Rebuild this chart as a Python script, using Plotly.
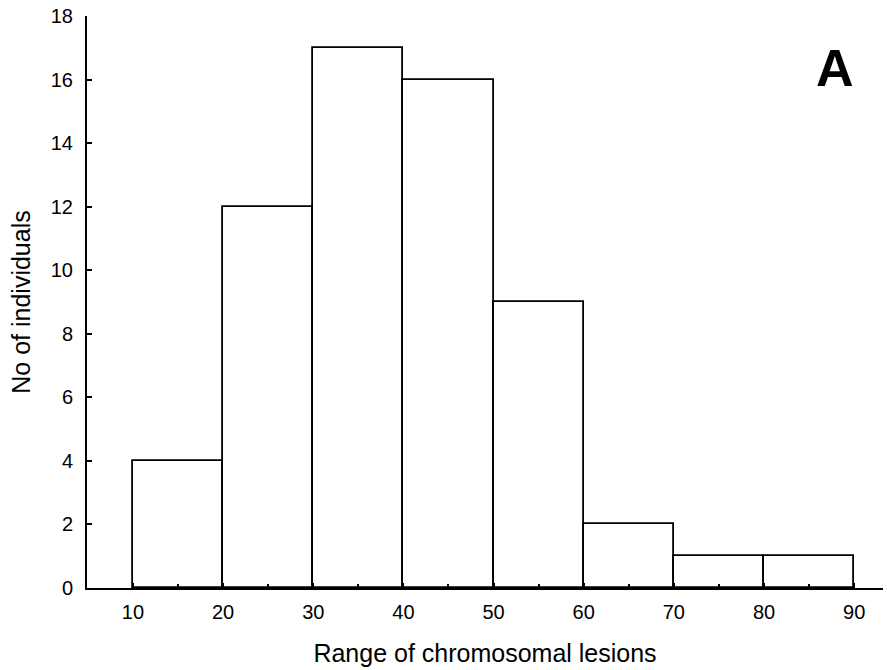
import plotly.graph_objects as go

bin_starts = [10, 20, 30, 40, 50, 60, 70, 80]
bin_width = 10
counts = [4, 12, 17, 16, 9, 2, 1, 1]
x_ticks = [10, 20, 30, 40, 50, 60, 70, 80, 90]
y_ticks = [0, 2, 4, 6, 8, 10, 12, 14, 16, 18]

centers = [s + bin_width / 2 for s in bin_starts]

fig = go.Figure(
    go.Bar(
        x=centers,
        y=counts,
        width=[bin_width] * len(counts),
        marker=dict(color="white", line=dict(color="black", width=1.8)),
        hoverinfo="skip",
    )
)

font = "Liberation Sans, Arial, sans-serif"
fig.update_layout(
    width=887,
    height=670,
    margin=dict(l=87, r=4, t=16, b=82),
    plot_bgcolor="white",
    paper_bgcolor="white",
    showlegend=False,
    bargap=0,
    font=dict(family=font, size=20, color="black"),
    annotations=[
        dict(
            text="<b>A</b>",
            x=0.94,
            y=0.909,
            xref="paper",
            yref="paper",
            xanchor="center",
            yanchor="middle",
            showarrow=False,
            font=dict(family=font, size=52, color="black"),
        )
    ],
)
fig.update_xaxes(
    range=[4.9, 93.2],
    tickvals=x_ticks,
    ticks="inside",
    ticklen=5,
    tickwidth=1.5,
    tickcolor="black",
    minor=dict(dtick=5, tick0=5, ticks="inside", ticklen=4, tickwidth=1.5, tickcolor="black"),
    showline=True,
    linecolor="black",
    linewidth=2,
    showgrid=False,
    zeroline=False,
    automargin=False,
    tickfont=dict(size=20),
    ticklabelstandoff=5,
    title=dict(text="Range of chromosomal lesions", font=dict(size=25), standoff=22),
)
fig.update_yaxes(
    range=[0, 18],
    tickvals=y_ticks,
    ticks="inside",
    ticklen=5,
    tickwidth=1.5,
    tickcolor="black",
    showline=True,
    linecolor="black",
    linewidth=2,
    showgrid=False,
    zeroline=False,
    automargin=False,
    tickfont=dict(size=20),
    ticklabelstandoff=8,
    ticklabeloverflow="allow",
    title=dict(text="No of individuals", font=dict(size=25), standoff=13),
)

fig.write_html(
    "out.html",
    config={"displayModeBar": False},
    post_script="document.body.style.margin='0px';",
)
